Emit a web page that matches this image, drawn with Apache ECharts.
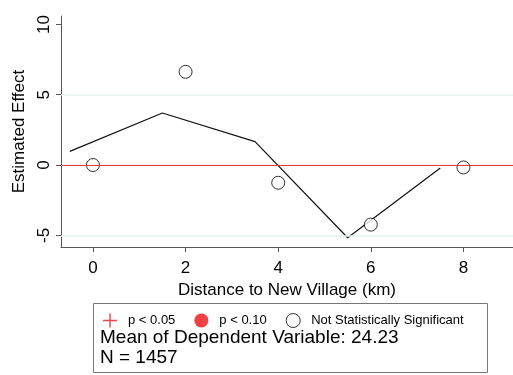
<!DOCTYPE html>
<html><head><meta charset="utf-8">
<script src="https://cdn.jsdelivr.net/npm/echarts@6/dist/echarts.min.js"></script>
<style>html,body{margin:0;padding:0;background:#fff}#c{width:513px;height:375px}</style>
</head><body><div id="c"></div>
<script>
// Point estimates by distance bin (all not statistically significant)
const distances = [0, 2, 4, 6, 8];
const estimates = [0.0, 6.63, -1.26, -4.24, -0.17];
// Black reference line
const lineX = [-0.5, 1.5, 3.5, 5.5, 7.5];
const lineY = [0.97, 3.7, 1.66, -5.17, -0.21];
const xTicks = [0, 2, 4, 6, 8];
const yTicks = [-5, 0, 5, 10];
const legendNames = ['p < 0.05', 'p < 0.10', 'Not Statistically Significant'];
const meanText = 'Mean of Dependent Variable: 24.23';
const nText = 'N = 1457';

const FONT = '"Liberation Sans", Arial, Helvetica, sans-serif';
const chart = echarts.init(document.getElementById('c'));
const plusPath = 'path://M5.4,0 L6.6,0 L6.6,5.4 L12,5.4 L12,6.6 L6.6,6.6 L6.6,12 L5.4,12 L5.4,6.6 L0,6.6 L0,5.4 L5.4,5.4 Z';
chart.setOption({
  animation: false,
  textStyle: {fontFamily: FONT},
  grid: {left: 61, right: 0, top: 16, bottom: 128, containLabel: false},
  xAxis: {
    type: 'value', min: -0.69, max: 9.07, interval: 2,
    name: 'Distance to New Village (km)', nameLocation: 'middle', nameGap: 31,
    nameTextStyle: {fontSize: 17, color: '#000', fontFamily: FONT},
    axisLine: {onZero: false, lineStyle: {color: '#555', width: 1}},
    axisTick: {show: true, length: 5, lineStyle: {color: '#555'}, customValues: xTicks},
    axisLabel: {fontSize: 17, color: '#000', margin: 13, customValues: xTicks, fontFamily: FONT},
    splitLine: {show: false}
  },
  yAxis: {
    type: 'value', min: -5.83, max: 10.6,
    name: 'Estimated Effect', nameLocation: 'middle', nameGap: 28,
    nameTextStyle: {fontSize: 17, color: '#000', fontFamily: FONT},
    axisLine: {onZero: false, lineStyle: {color: '#555', width: 1}},
    axisTick: {show: true, length: 5, lineStyle: {color: '#555'}, customValues: yTicks},
    axisLabel: {fontSize: 17, color: '#000', margin: 8, rotate: 90, customValues: yTicks, fontFamily: FONT},
    splitLine: {show: false}
  },
  legend: {
    left: 98, top: 308, itemWidth: 14, itemHeight: 14, itemGap: 19,
    textStyle: {fontSize: 13, color: '#000', fontFamily: FONT, padding: [0, 0, 0, 6]},
    data: [
      {name: legendNames[0], icon: plusPath, itemStyle: {color: '#e8141c'}},
      {name: legendNames[1], icon: 'circle', itemStyle: {color: '#f01010'}},
      {name: legendNames[2], icon: 'circle', itemStyle: {color: '#fff', borderColor: '#000', borderWidth: 1}}
    ]
  },
  graphic: [
    {type: 'rect', shape: {x: 93.5, y: 303.5, width: 394, height: 69}, style: {fill: 'none', stroke: '#777', lineWidth: 1}, z: 0},
    {type: 'text', left: 100, top: 328, style: {text: meanText, font: '19px ' + FONT, fill: '#000'}},
    {type: 'text', left: 100, top: 348, style: {text: nText, font: '19px ' + FONT, fill: '#000'}}
  ],
  series: [
    {
      name: 'ref', type: 'line', data: lineX.map((x, i) => [x, lineY[i]]),
      symbol: 'none', lineStyle: {color: '#111', width: 1.2}, z: 3, silent: true,
      markLine: {
        silent: true, symbol: 'none', label: {show: false},
        data: [
          {yAxis: 5, lineStyle: {color: '#eaf1f1', width: 1.5, type: 'solid'}},
          {yAxis: -5, lineStyle: {color: '#eaf1f1', width: 1.5, type: 'solid'}},
          {yAxis: 0, lineStyle: {color: '#ee3838', width: 1, type: 'solid'}}
        ]
      }
    },
    {name: legendNames[0], type: 'scatter', data: [], symbol: plusPath, itemStyle: {color: '#e8141c'}},
    {name: legendNames[1], type: 'scatter', data: [], symbol: 'circle', itemStyle: {color: '#f01010'}},
    {
      name: legendNames[2], type: 'scatter', data: distances.map((d, i) => [d, estimates[i]]),
      symbol: 'circle', symbolSize: 13, z: 4,
      itemStyle: {color: '#fff', borderColor: '#000', borderWidth: 1}
    }
  ]
});
</script></body></html>
